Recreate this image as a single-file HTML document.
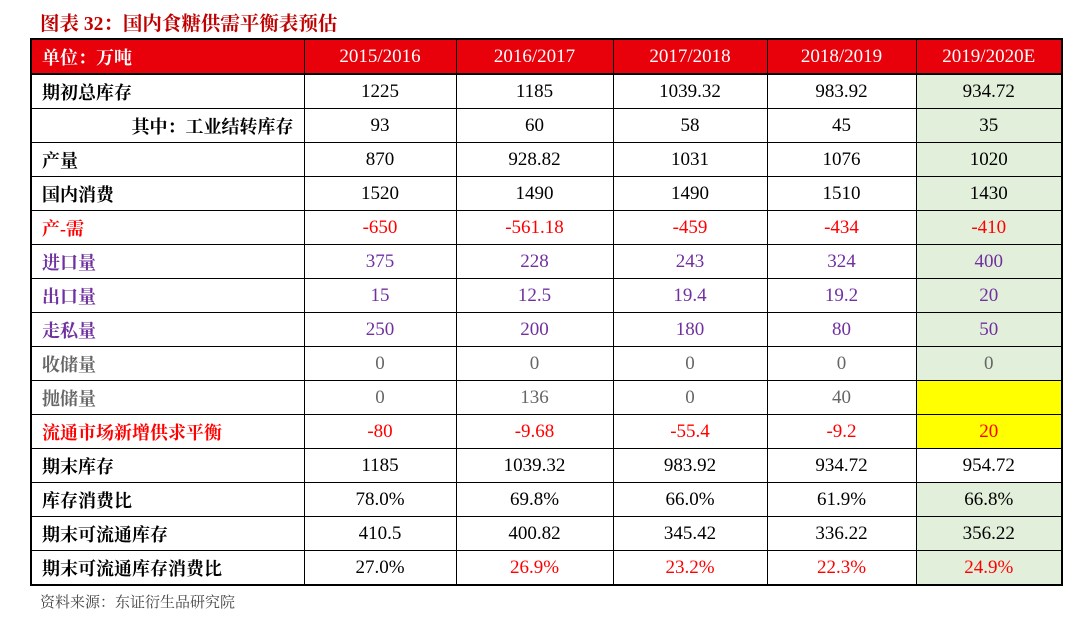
<!DOCTYPE html>
<html><head><meta charset="utf-8"><style>
body{margin:0;width:1080px;height:631px;background:#fff;position:relative;overflow:hidden;font-family:"Liberation Serif","Noto Serif CJK SC",serif}
.title{position:absolute;left:40px;top:8px;font-size:19.5px;font-weight:bold;color:#c00000;font-family:"Liberation Serif","Noto Serif CJK SC",serif}
table{position:absolute;left:30px;top:38px;border-collapse:collapse;table-layout:fixed;width:1031px;border:2px solid #000}
td{border:1px solid #000;height:33px;padding:0;text-align:center;font-size:19px;color:#000}
tr.h td{background:#e8000b;color:#fff;height:33px;border-bottom:2px solid #000}
td.l{text-align:left;padding-left:10px;font-weight:bold;font-size:18px}
td.g{background:#e2efda}
td.y{background:#ffff00}
.r td{color:#f00}.p td{color:#7030a0}.gr td{color:#666}
.src{position:absolute;left:40px;top:591px;font-size:15px;color:#444}
</style></head><body>
<div class="title">图表 32：国内食糖供需平衡表预估</div>
<table>
<colgroup><col style="width:273px"><col style="width:152px"><col style="width:157px"><col style="width:154px"><col style="width:149px"><col style="width:146px"></colgroup>
<tr class="h"><td class="l">单位：万吨</td><td>2015/2016</td><td>2016/2017</td><td>2017/2018</td><td>2018/2019</td><td>2019/2020E</td></tr>
<tr><td class="l">期初总库存</td><td>1225</td><td>1185</td><td>1039.32</td><td>983.92</td><td class="g">934.72</td></tr>
<tr><td class="l" style="text-align:right;padding-right:10px">其中：工业结转库存</td><td>93</td><td>60</td><td>58</td><td>45</td><td class="g">35</td></tr>
<tr><td class="l">产量</td><td>870</td><td>928.82</td><td>1031</td><td>1076</td><td class="g">1020</td></tr>
<tr><td class="l">国内消费</td><td>1520</td><td>1490</td><td>1490</td><td>1510</td><td class="g">1430</td></tr>
<tr class="r"><td class="l">产-需</td><td>-650</td><td>-561.18</td><td>-459</td><td>-434</td><td class="g">-410</td></tr>
<tr class="p"><td class="l">进口量</td><td>375</td><td>228</td><td>243</td><td>324</td><td class="g">400</td></tr>
<tr class="p"><td class="l">出口量</td><td>15</td><td>12.5</td><td>19.4</td><td>19.2</td><td class="g">20</td></tr>
<tr class="p"><td class="l">走私量</td><td>250</td><td>200</td><td>180</td><td>80</td><td class="g">50</td></tr>
<tr class="gr"><td class="l">收储量</td><td>0</td><td>0</td><td>0</td><td>0</td><td class="g">0</td></tr>
<tr class="gr"><td class="l">抛储量</td><td>0</td><td>136</td><td>0</td><td>40</td><td class="y"></td></tr>
<tr class="r"><td class="l">流通市场新增供求平衡</td><td>-80</td><td>-9.68</td><td>-55.4</td><td>-9.2</td><td class="y">20</td></tr>
<tr><td class="l">期末库存</td><td>1185</td><td>1039.32</td><td>983.92</td><td>934.72</td><td>954.72</td></tr>
<tr><td class="l">库存消费比</td><td>78.0%</td><td>69.8%</td><td>66.0%</td><td>61.9%</td><td class="g">66.8%</td></tr>
<tr><td class="l">期末可流通库存</td><td>410.5</td><td>400.82</td><td>345.42</td><td>336.22</td><td class="g">356.22</td></tr>
<tr><td class="l">期末可流通库存消费比</td><td>27.0%</td><td style="color:#f00">26.9%</td><td style="color:#f00">23.2%</td><td style="color:#f00">22.3%</td><td class="g" style="color:#f00">24.9%</td></tr>
</table>
<div class="src">资料来源：东证衍生品研究院</div>
</body></html>
